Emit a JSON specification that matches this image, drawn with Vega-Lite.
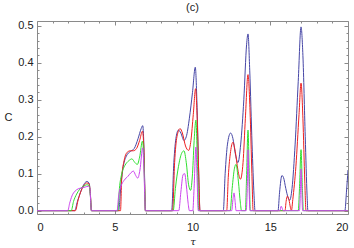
{
  "$schema": "https://vega.github.io/schema/vega-lite/v6.json",
  "width": 311,
  "height": 193,
  "autosize": {"type": "none"},
  "padding": {"left": 37, "top": 21, "right": 6, "bottom": 34},
  "config": {
    "view": {"stroke": "#8a8a8a", "strokeWidth": 1},
    "font": "Liberation Sans",
    "axis": {"labelFont": "Liberation Sans", "labelFontSize": 11, "labelColor": "#222", "tickColor": "#8a8a8a", "domain": false, "grid": false, "titleFont": "Liberation Sans", "titleFontWeight": "normal", "titleColor": "#222", "titleFontSize": 11}
  },
  "title": {"text": "(c)", "fontSize": 11, "fontWeight": "normal", "font": "Liberation Sans", "color": "#222", "offset": 7},
  "datasets": {
    "frame": [{"t": 0, "C": 0}]
  },
  "layer": [
    {
      "data": {"values": [
        {"s": "1", "t": 0, "C": 0}, {"s": "1", "t": 2.42, "C": 0}, {"s": "1", "t": 2.6, "C": 0.025}, {"s": "1", "t": 2.8, "C": 0.05}, {"s": "1", "t": 3.0, "C": 0.07}, {"s": "1", "t": 3.2, "C": 0.079}, {"s": "1", "t": 3.35, "C": 0.075}, {"s": "1", "t": 3.44, "C": 0.04}, {"s": "1", "t": 3.5, "C": 0},
        {"s": "1", "t": 5.25, "C": 0}, {"s": "1", "t": 5.4, "C": 0.07}, {"s": "1", "t": 5.55, "C": 0.12}, {"s": "1", "t": 5.75, "C": 0.148}, {"s": "1", "t": 6.0, "C": 0.16}, {"s": "1", "t": 6.25, "C": 0.168}, {"s": "1", "t": 6.5, "C": 0.195}, {"s": "1", "t": 6.7, "C": 0.222}, {"s": "1", "t": 6.8, "C": 0.23}, {"s": "1", "t": 6.87, "C": 0.18}, {"s": "1", "t": 6.93, "C": 0.07}, {"s": "1", "t": 6.97, "C": 0},
        {"s": "1", "t": 8.66, "C": 0}, {"s": "1", "t": 8.8, "C": 0.13}, {"s": "1", "t": 8.95, "C": 0.2}, {"s": "1", "t": 9.1, "C": 0.218}, {"s": "1", "t": 9.25, "C": 0.21}, {"s": "1", "t": 9.45, "C": 0.19}, {"s": "1", "t": 9.6, "C": 0.2}, {"s": "1", "t": 9.8, "C": 0.25}, {"s": "1", "t": 10.0, "C": 0.32}, {"s": "1", "t": 10.18, "C": 0.388}, {"s": "1", "t": 10.28, "C": 0.3}, {"s": "1", "t": 10.4, "C": 0.1}, {"s": "1", "t": 10.48, "C": 0},
        {"s": "1", "t": 11.98, "C": 0}, {"s": "1", "t": 12.1, "C": 0.1}, {"s": "1", "t": 12.25, "C": 0.18}, {"s": "1", "t": 12.45, "C": 0.21}, {"s": "1", "t": 12.6, "C": 0.195}, {"s": "1", "t": 12.75, "C": 0.155}, {"s": "1", "t": 12.92, "C": 0.13}, {"s": "1", "t": 13.1, "C": 0.18}, {"s": "1", "t": 13.3, "C": 0.3}, {"s": "1", "t": 13.48, "C": 0.45}, {"s": "1", "t": 13.57, "C": 0.478}, {"s": "1", "t": 13.68, "C": 0.38}, {"s": "1", "t": 13.83, "C": 0.18}, {"s": "1", "t": 13.96, "C": 0.04}, {"s": "1", "t": 14.02, "C": 0},
        {"s": "1", "t": 15.5, "C": 0}, {"s": "1", "t": 15.6, "C": 0.05}, {"s": "1", "t": 15.75, "C": 0.095}, {"s": "1", "t": 15.85, "C": 0.09}, {"s": "1", "t": 16.0, "C": 0.06}, {"s": "1", "t": 16.15, "C": 0.035}, {"s": "1", "t": 16.25, "C": 0.028}, {"s": "1", "t": 16.4, "C": 0.06}, {"s": "1", "t": 16.6, "C": 0.18}, {"s": "1", "t": 16.8, "C": 0.35}, {"s": "1", "t": 16.98, "C": 0.497}, {"s": "1", "t": 17.1, "C": 0.42}, {"s": "1", "t": 17.25, "C": 0.2}, {"s": "1", "t": 17.37, "C": 0.04}, {"s": "1", "t": 17.42, "C": 0},
        {"s": "1", "t": 19.8, "C": 0}, {"s": "1", "t": 19.9, "C": 0.05}, {"s": "1", "t": 20, "C": 0.11},

        {"s": "2", "t": 0, "C": 0}, {"s": "2", "t": 2.47, "C": 0}, {"s": "2", "t": 2.65, "C": 0.03}, {"s": "2", "t": 2.85, "C": 0.055}, {"s": "2", "t": 3.05, "C": 0.07}, {"s": "2", "t": 3.2, "C": 0.075}, {"s": "2", "t": 3.35, "C": 0.072}, {"s": "2", "t": 3.44, "C": 0.04}, {"s": "2", "t": 3.5, "C": 0},
        {"s": "2", "t": 5.37, "C": 0}, {"s": "2", "t": 5.45, "C": 0.09}, {"s": "2", "t": 5.6, "C": 0.135}, {"s": "2", "t": 5.8, "C": 0.158}, {"s": "2", "t": 6.0, "C": 0.162}, {"s": "2", "t": 6.2, "C": 0.162}, {"s": "2", "t": 6.4, "C": 0.168}, {"s": "2", "t": 6.6, "C": 0.19}, {"s": "2", "t": 6.78, "C": 0.215}, {"s": "2", "t": 6.87, "C": 0.17}, {"s": "2", "t": 6.93, "C": 0.06}, {"s": "2", "t": 6.97, "C": 0},
        {"s": "2", "t": 8.72, "C": 0}, {"s": "2", "t": 8.85, "C": 0.13}, {"s": "2", "t": 9.0, "C": 0.2}, {"s": "2", "t": 9.2, "C": 0.222}, {"s": "2", "t": 9.35, "C": 0.21}, {"s": "2", "t": 9.55, "C": 0.175}, {"s": "2", "t": 9.75, "C": 0.163}, {"s": "2", "t": 9.9, "C": 0.19}, {"s": "2", "t": 10.05, "C": 0.26}, {"s": "2", "t": 10.2, "C": 0.33}, {"s": "2", "t": 10.3, "C": 0.25}, {"s": "2", "t": 10.42, "C": 0.07}, {"s": "2", "t": 10.48, "C": 0},
        {"s": "2", "t": 12.2, "C": 0}, {"s": "2", "t": 12.3, "C": 0.09}, {"s": "2", "t": 12.45, "C": 0.16}, {"s": "2", "t": 12.6, "C": 0.185}, {"s": "2", "t": 12.75, "C": 0.16}, {"s": "2", "t": 12.92, "C": 0.11}, {"s": "2", "t": 13.08, "C": 0.085}, {"s": "2", "t": 13.25, "C": 0.13}, {"s": "2", "t": 13.4, "C": 0.25}, {"s": "2", "t": 13.57, "C": 0.368}, {"s": "2", "t": 13.7, "C": 0.27}, {"s": "2", "t": 13.82, "C": 0.1}, {"s": "2", "t": 13.9, "C": 0},
        {"s": "2", "t": 15.95, "C": 0}, {"s": "2", "t": 16.02, "C": 0.025}, {"s": "2", "t": 16.1, "C": 0.039}, {"s": "2", "t": 16.2, "C": 0.03}, {"s": "2", "t": 16.3, "C": 0.008}, {"s": "2", "t": 16.36, "C": 0}, {"s": "2", "t": 16.45, "C": 0.03}, {"s": "2", "t": 16.65, "C": 0.12}, {"s": "2", "t": 16.85, "C": 0.26}, {"s": "2", "t": 16.98, "C": 0.345}, {"s": "2", "t": 17.1, "C": 0.25}, {"s": "2", "t": 17.22, "C": 0.08}, {"s": "2", "t": 17.3, "C": 0}, {"s": "2", "t": 20, "C": 0},

        {"s": "3", "t": 0, "C": 0}, {"s": "3", "t": 2.2, "C": 0}, {"s": "3", "t": 2.35, "C": 0.025}, {"s": "3", "t": 2.55, "C": 0.045}, {"s": "3", "t": 2.75, "C": 0.058}, {"s": "3", "t": 3.0, "C": 0.066}, {"s": "3", "t": 3.2, "C": 0.07}, {"s": "3", "t": 3.35, "C": 0.068}, {"s": "3", "t": 3.44, "C": 0.035}, {"s": "3", "t": 3.5, "C": 0},
        {"s": "3", "t": 5.2, "C": 0}, {"s": "3", "t": 5.3, "C": 0.06}, {"s": "3", "t": 5.45, "C": 0.1}, {"s": "3", "t": 5.65, "C": 0.122}, {"s": "3", "t": 5.9, "C": 0.135}, {"s": "3", "t": 6.1, "C": 0.14}, {"s": "3", "t": 6.3, "C": 0.13}, {"s": "3", "t": 6.45, "C": 0.125}, {"s": "3", "t": 6.6, "C": 0.145}, {"s": "3", "t": 6.78, "C": 0.188}, {"s": "3", "t": 6.87, "C": 0.14}, {"s": "3", "t": 6.93, "C": 0.05}, {"s": "3", "t": 6.97, "C": 0},
        {"s": "3", "t": 8.76, "C": 0}, {"s": "3", "t": 8.9, "C": 0.06}, {"s": "3", "t": 9.1, "C": 0.12}, {"s": "3", "t": 9.3, "C": 0.155}, {"s": "3", "t": 9.45, "C": 0.162}, {"s": "3", "t": 9.6, "C": 0.13}, {"s": "3", "t": 9.75, "C": 0.07}, {"s": "3", "t": 9.88, "C": 0.055}, {"s": "3", "t": 10.0, "C": 0.1}, {"s": "3", "t": 10.12, "C": 0.2}, {"s": "3", "t": 10.22, "C": 0.245}, {"s": "3", "t": 10.32, "C": 0.12}, {"s": "3", "t": 10.4, "C": 0},
        {"s": "3", "t": 12.42, "C": 0}, {"s": "3", "t": 12.55, "C": 0.06}, {"s": "3", "t": 12.7, "C": 0.115}, {"s": "3", "t": 12.8, "C": 0.125}, {"s": "3", "t": 12.95, "C": 0.08}, {"s": "3", "t": 13.08, "C": 0.02}, {"s": "3", "t": 13.15, "C": 0}, {"s": "3", "t": 13.4, "C": 0}, {"s": "3", "t": 13.47, "C": 0.08}, {"s": "3", "t": 13.57, "C": 0.218}, {"s": "3", "t": 13.65, "C": 0.1}, {"s": "3", "t": 13.72, "C": 0},
        {"s": "3", "t": 16.8, "C": 0}, {"s": "3", "t": 16.88, "C": 0.06}, {"s": "3", "t": 16.98, "C": 0.165}, {"s": "3", "t": 17.06, "C": 0.07}, {"s": "3", "t": 17.13, "C": 0}, {"s": "3", "t": 20, "C": 0},

        {"s": "4", "t": 0, "C": 0}, {"s": "4", "t": 1.98, "C": 0}, {"s": "4", "t": 2.1, "C": 0.02}, {"s": "4", "t": 2.25, "C": 0.04}, {"s": "4", "t": 2.45, "C": 0.053}, {"s": "4", "t": 2.65, "C": 0.059}, {"s": "4", "t": 2.9, "C": 0.062}, {"s": "4", "t": 3.1, "C": 0.064}, {"s": "4", "t": 3.3, "C": 0.066}, {"s": "4", "t": 3.4, "C": 0.06}, {"s": "4", "t": 3.46, "C": 0.02}, {"s": "4", "t": 3.5, "C": 0},
        {"s": "4", "t": 5.15, "C": 0}, {"s": "4", "t": 5.25, "C": 0.04}, {"s": "4", "t": 5.4, "C": 0.066}, {"s": "4", "t": 5.6, "C": 0.082}, {"s": "4", "t": 5.85, "C": 0.093}, {"s": "4", "t": 6.05, "C": 0.103}, {"s": "4", "t": 6.2, "C": 0.107}, {"s": "4", "t": 6.35, "C": 0.095}, {"s": "4", "t": 6.48, "C": 0.088}, {"s": "4", "t": 6.62, "C": 0.11}, {"s": "4", "t": 6.8, "C": 0.17}, {"s": "4", "t": 6.87, "C": 0.12}, {"s": "4", "t": 6.93, "C": 0.04}, {"s": "4", "t": 6.97, "C": 0},
        {"s": "4", "t": 9.12, "C": 0}, {"s": "4", "t": 9.25, "C": 0.05}, {"s": "4", "t": 9.4, "C": 0.098}, {"s": "4", "t": 9.5, "C": 0.1}, {"s": "4", "t": 9.6, "C": 0.07}, {"s": "4", "t": 9.72, "C": 0.02}, {"s": "4", "t": 9.8, "C": 0}, {"s": "4", "t": 10.02, "C": 0}, {"s": "4", "t": 10.1, "C": 0.06}, {"s": "4", "t": 10.22, "C": 0.172}, {"s": "4", "t": 10.3, "C": 0.08}, {"s": "4", "t": 10.37, "C": 0},
        {"s": "4", "t": 12.52, "C": 0}, {"s": "4", "t": 12.6, "C": 0.03}, {"s": "4", "t": 12.67, "C": 0.048}, {"s": "4", "t": 12.74, "C": 0.025}, {"s": "4", "t": 12.8, "C": 0}, {"s": "4", "t": 13.45, "C": 0}, {"s": "4", "t": 13.52, "C": 0.06}, {"s": "4", "t": 13.57, "C": 0.165}, {"s": "4", "t": 13.64, "C": 0.06}, {"s": "4", "t": 13.7, "C": 0},
        {"s": "4", "t": 15.62, "C": 0}, {"s": "4", "t": 15.7, "C": 0.012}, {"s": "4", "t": 15.78, "C": 0.005}, {"s": "4", "t": 15.82, "C": 0}, {"s": "4", "t": 16.88, "C": 0}, {"s": "4", "t": 16.93, "C": 0.04}, {"s": "4", "t": 16.98, "C": 0.113}, {"s": "4", "t": 17.04, "C": 0.04}, {"s": "4", "t": 17.08, "C": 0}, {"s": "4", "t": 20, "C": 0}
      ]},
      "mark": {"type": "line", "strokeWidth": 1, "interpolate": "monotone", "clip": true},
      "encoding": {
        "x": {"field": "t", "type": "quantitative", "scale": {"domain": [0, 20], "nice": false, "zero": false},
          "axis": {"orient": "bottom", "values": [0,1,2,3,4,5,6,7,8,9,10,11,12,13,14,15,16,17,18,19,20],
            "labelExpr": "datum.value % 5 === 0 ? datum.label : ''", "labelPadding": 11,
            "tickSize": {"condition": {"test": "datum.value % 5 === 0", "value": -4}, "value": -2},
            "title": "τ", "titleFontStyle": "italic", "titleFont": "DejaVu Serif", "titleFontSize": 10, "titleBaseline": "middle", "titleY": 27}},
        "y": {"field": "C", "type": "quantitative", "scale": {"domain": [-0.009, 0.513], "nice": false, "zero": false},
          "axis": {"orient": "left", "values": [0,0.02,0.04,0.06,0.08,0.1,0.12,0.14,0.16,0.18,0.2,0.22,0.24,0.26,0.28,0.3,0.32,0.34,0.36,0.38,0.4,0.42,0.44,0.46,0.48,0.5],
            "labelExpr": "abs(datum.value*10 - round(datum.value*10)) < 0.001 ? format(datum.value, '.1f') : ''", "labelPadding": 8,
            "tickSize": {"condition": {"test": "abs(datum.value*10 - round(datum.value*10)) < 0.001", "value": -4}, "value": -2},
            "title": "C", "titleAngle": 0, "titleAlign": "center", "titleBaseline": "middle", "titleX": -29, "titleY": 96}},
        "color": {"field": "s", "type": "nominal", "legend": null,
          "scale": {"domain": ["1", "2", "3", "4"], "range": ["#4646a6", "#ee2020", "#30e030", "#cc44ee"]}}
      }
    },
    {
      "data": {"name": "frame"},
      "mark": {"type": "point", "opacity": 0},
      "encoding": {
        "x": {"field": "t", "type": "quantitative",
          "axis": {"orient": "top", "values": [0,1,2,3,4,5,6,7,8,9,10,11,12,13,14,15,16,17,18,19,20], "labels": false, "title": null,
            "tickSize": {"condition": {"test": "datum.value % 5 === 0", "value": -4}, "value": -2}}},
        "y": {"field": "C", "type": "quantitative",
          "axis": {"orient": "right", "values": [0,0.02,0.04,0.06,0.08,0.1,0.12,0.14,0.16,0.18,0.2,0.22,0.24,0.26,0.28,0.3,0.32,0.34,0.36,0.38,0.4,0.42,0.44,0.46,0.48,0.5], "labels": false, "title": null,
            "tickSize": {"condition": {"test": "abs(datum.value*10 - round(datum.value*10)) < 0.001", "value": -4}, "value": -2}}}
      }
    }
  ],
  "resolve": {"axis": {"x": "independent", "y": "independent"}}
}
